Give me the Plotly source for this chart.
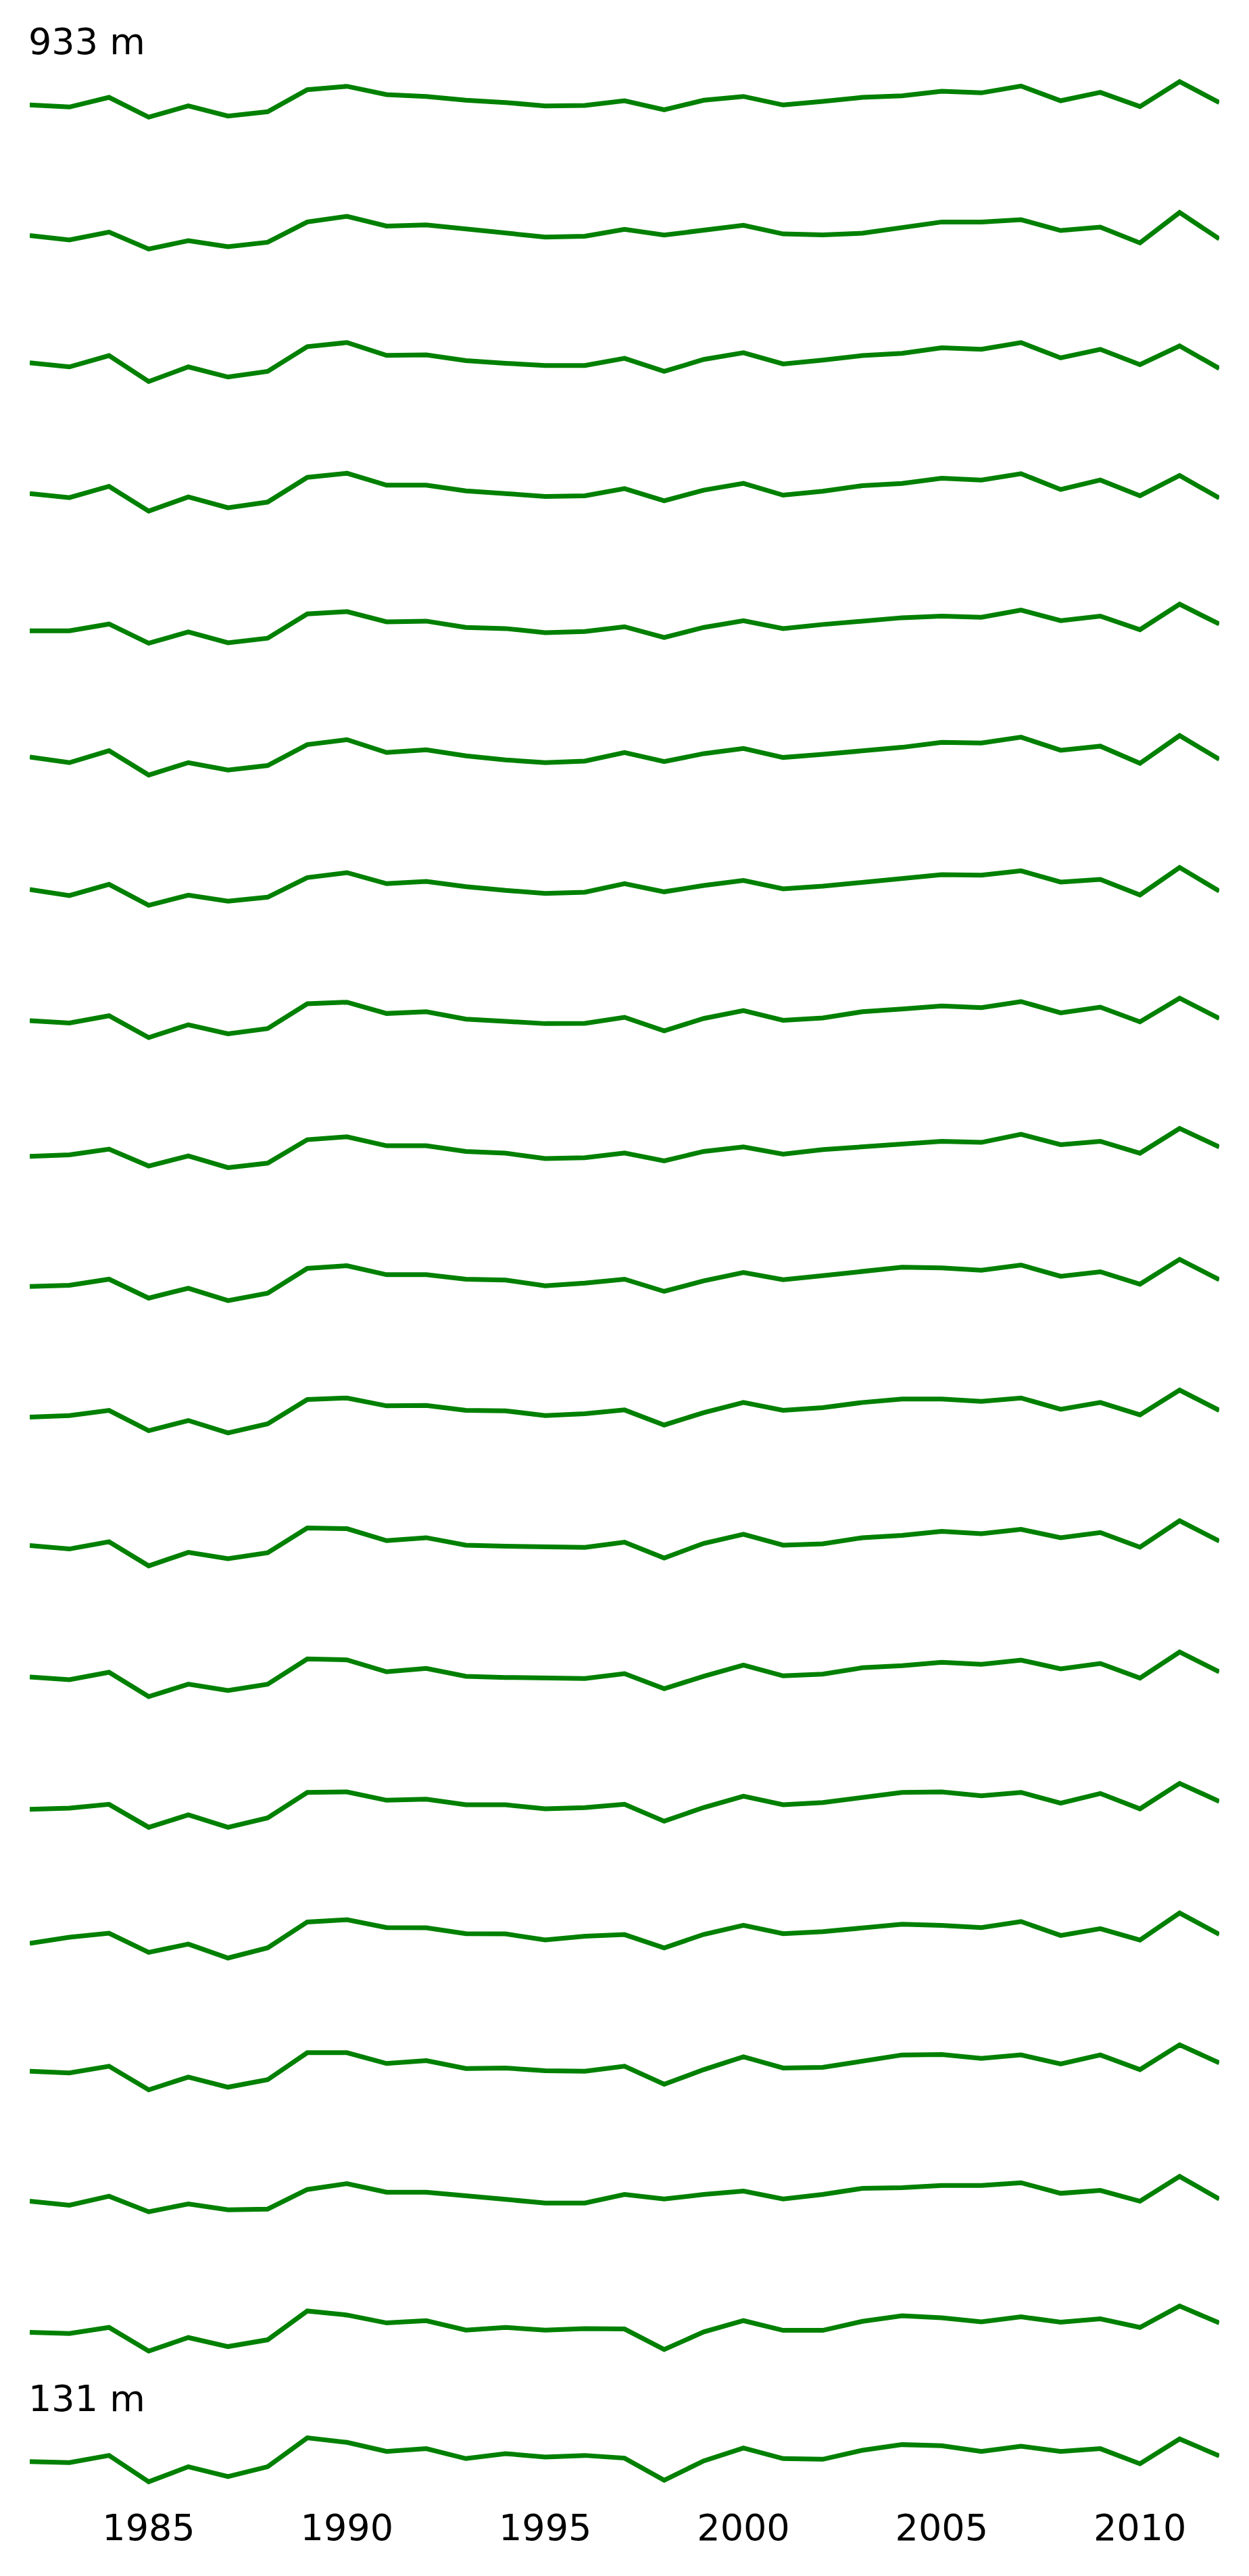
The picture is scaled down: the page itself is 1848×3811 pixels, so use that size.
import plotly.graph_objects as go

# ---------------- data ----------------
years = list(range(1982, 2013))
tick_years = [1985, 1990, 1995, 2000, 2005, 2010]
panel_labels = ["933 m"] + [""] * 17 + ["131 m"]

p01 = [-0.22, -0.31, 0.12, -0.76, -0.26, -0.71, -0.52, 0.46, 0.61, 0.24, 0.16, -0.01, -0.11, -0.26, -0.24, -0.03,
       -0.43, -0.01, 0.16, -0.22, -0.06, 0.12, 0.19, 0.39, 0.32, 0.62, -0.03, 0.34, -0.29, 0.82, -0.11]
p02 = [-0.20, -0.40, -0.05, -0.80, -0.43, -0.70, -0.50, 0.40, 0.65, 0.22, 0.27, 0.10, -0.05, -0.27, -0.23, 0.07,
       -0.18, 0.05, 0.25, -0.13, -0.17, -0.10, 0.13, 0.40, 0.40, 0.50, 0.02, 0.17, -0.53, 0.82, -0.35]
p03 = [-0.04, -0.22, 0.28, -0.87, -0.22, -0.67, -0.42, 0.68, 0.86, 0.29, 0.31, 0.06, -0.06, -0.16, -0.16, 0.16,
       -0.42, 0.11, 0.41, -0.09, 0.08, 0.28, 0.38, 0.63, 0.56, 0.86, 0.18, 0.56, -0.12, 0.71, -0.29]
p04 = [-0.03, -0.21, 0.29, -0.81, -0.18, -0.66, -0.41, 0.69, 0.87, 0.34, 0.34, 0.09, -0.03, -0.16, -0.13, 0.19,
       -0.35, 0.12, 0.42, -0.10, 0.07, 0.32, 0.42, 0.65, 0.57, 0.85, 0.15, 0.57, -0.13, 0.77, -0.23]
p05 = [-0.31, -0.31, -0.01, -0.86, -0.36, -0.84, -0.64, 0.44, 0.54, 0.09, 0.12, -0.16, -0.21, -0.39, -0.34, -0.13,
       -0.61, -0.16, 0.14, -0.21, -0.03, 0.12, 0.27, 0.34, 0.29, 0.61, 0.14, 0.34, -0.26, 0.87, -0.01]
p06 = [-0.10, -0.35, 0.18, -0.90, -0.35, -0.68, -0.48, 0.45, 0.67, 0.10, 0.22, -0.05, -0.23, -0.35, -0.28, 0.10,
       -0.30, 0.05, 0.28, -0.12, 0.02, 0.18, 0.33, 0.55, 0.52, 0.78, 0.20, 0.38, -0.38, 0.85, -0.20]
p07 = [-0.17, -0.44, 0.06, -0.87, -0.42, -0.69, -0.51, 0.36, 0.58, 0.09, 0.19, -0.04, -0.21, -0.34, -0.29, 0.09,
       -0.27, 0.01, 0.23, -0.14, -0.02, 0.16, 0.33, 0.49, 0.47, 0.66, 0.16, 0.28, -0.41, 0.81, -0.24]
p08 = [-0.18, -0.28, 0.04, -0.93, -0.36, -0.76, -0.53, 0.57, 0.64, 0.14, 0.22, -0.11, -0.21, -0.31, -0.30, -0.03,
       -0.63, -0.08, 0.27, -0.16, -0.06, 0.22, 0.34, 0.47, 0.40, 0.67, 0.17, 0.42, -0.23, 0.82, -0.08]
p09 = [-0.39, -0.32, -0.07, -0.82, -0.37, -0.89, -0.69, 0.35, 0.48, 0.08, 0.08, -0.17, -0.25, -0.49, -0.45, -0.24,
       -0.59, -0.17, 0.03, -0.29, -0.09, 0.03, 0.15, 0.28, 0.23, 0.59, 0.13, 0.28, -0.25, 0.85, 0.03]
p10 = [-0.35, -0.30, -0.03, -0.87, -0.43, -0.98, -0.65, 0.45, 0.57, 0.17, 0.17, -0.03, -0.07, -0.32, -0.20, -0.03,
       -0.57, -0.10, 0.27, -0.05, 0.13, 0.33, 0.50, 0.47, 0.37, 0.60, 0.10, 0.30, -0.25, 0.85, -0.05]
p11 = [-0.34, -0.27, -0.04, -0.94, -0.49, -1.04, -0.64, 0.44, 0.51, 0.16, 0.18, -0.04, -0.06, -0.27, -0.19, -0.02,
       -0.69, -0.14, 0.31, -0.04, 0.08, 0.31, 0.46, 0.46, 0.36, 0.51, 0.01, 0.31, -0.24, 0.86, -0.04]
p12 = [-0.23, -0.38, -0.06, -1.13, -0.53, -0.81, -0.55, 0.55, 0.52, -0.01, 0.12, -0.21, -0.26, -0.26, -0.31, -0.08,
       -0.78, -0.13, 0.27, -0.21, -0.15, 0.12, 0.22, 0.40, 0.30, 0.49, 0.12, 0.35, -0.30, 0.87, -0.03]
p13 = [-0.25, -0.37, -0.04, -1.12, -0.57, -0.85, -0.57, 0.55, 0.51, -0.02, 0.13, -0.22, -0.27, -0.29, -0.32, -0.10,
       -0.77, -0.22, 0.28, -0.20, -0.12, 0.16, 0.25, 0.40, 0.31, 0.50, 0.11, 0.35, -0.30, 0.86, -0.02]
p14 = [-0.31, -0.26, -0.09, -1.11, -0.56, -1.11, -0.69, 0.44, 0.46, 0.09, 0.14, -0.11, -0.11, -0.29, -0.24, -0.09,
       -0.84, -0.23, 0.27, -0.11, -0.01, 0.24, 0.44, 0.46, 0.29, 0.44, -0.04, 0.39, -0.29, 0.84, 0.04]
p15 = [-0.45, -0.18, 0.00, -0.85, -0.48, -1.10, -0.65, 0.50, 0.60, 0.25, 0.24, -0.02, -0.03, -0.30, -0.13, -0.06,
       -0.65, -0.05, 0.35, -0.02, 0.07, 0.25, 0.40, 0.35, 0.25, 0.52, -0.10, 0.20, -0.30, 0.90, -0.05]
p16 = [-0.31, -0.39, -0.09, -1.14, -0.57, -1.02, -0.69, 0.51, 0.51, 0.03, 0.16, -0.19, -0.17, -0.29, -0.31, -0.09,
       -0.89, -0.24, 0.33, -0.17, -0.14, 0.16, 0.41, 0.43, 0.26, 0.41, 0.01, 0.41, -0.24, 0.86, 0.06]
p17 = [-0.27, -0.45, -0.05, -0.74, -0.39, -0.65, -0.62, 0.25, 0.51, 0.13, 0.13, -0.05, -0.19, -0.35, -0.35, 0.03,
       -0.17, 0.03, 0.18, -0.17, 0.03, 0.30, 0.33, 0.43, 0.43, 0.55, 0.08, 0.21, -0.27, 0.83, -0.17]
p18 = [-0.28, -0.33, -0.06, -1.11, -0.51, -0.91, -0.61, 0.67, 0.49, 0.14, 0.24, -0.18, -0.06, -0.18, -0.11, -0.13,
       -1.04, -0.26, 0.24, -0.19, -0.19, 0.21, 0.46, 0.37, 0.19, 0.41, 0.17, 0.32, -0.06, 0.89, 0.14]
p19 = [-0.20, -0.25, 0.07, -1.10, -0.43, -0.87, -0.43, 0.85, 0.65, 0.25, 0.37, -0.07, 0.15, 0.00, 0.07, -0.05,
       -1.03, -0.17, 0.40, -0.07, -0.10, 0.30, 0.55, 0.50, 0.25, 0.48, 0.25, 0.37, -0.30, 0.80, 0.05]

panels = [p01, p02, p03, p04, p05, p06, p07, p08, p09, p10,
          p11, p12, p13, p14, p15, p16, p17, p18, p19]

# ---------------- layout geometry ----------------
W, H = 1848, 3811
ML, MR, MT, MB = 36, 52, 0, 116
P = H - MT - MB                # plot-area height in px
first_center = 140.0           # px from top of plot area
pitch = 193.72                 # px between panel centres
half_px = 60.0                 # half height of each panel
px_per_unit = 33.33
yhalf = half_px / px_per_unit
FONT = "DejaVu Sans"
FS = 54
GREEN = "#008000"

fig = go.Figure()
n = len(panels)
layout = dict(
    width=W, height=H,
    margin=dict(l=ML, r=MR, t=MT, b=MB, pad=0),
    paper_bgcolor="white", plot_bgcolor="white",
    showlegend=False,
    font=dict(family=FONT, size=FS, color="black"),
)

annotations = []
for i, vals in enumerate(panels):
    yname = "y" if i == 0 else f"y{i + 1}"
    lname = "yaxis" if i == 0 else f"yaxis{i + 1}"
    c = first_center + i * pitch
    d0 = 1 - (c + half_px) / P
    d1 = 1 - (c - half_px) / P
    fig.add_trace(go.Scatter(x=years, y=vals, xaxis="x", yaxis=yname, mode="lines",
                             line=dict(color=GREEN, width=7), hoverinfo="skip"))
    layout[lname] = dict(domain=[max(d0, 0), min(d1, 1)], range=[-yhalf, yhalf],
                         showgrid=False, zeroline=False, showline=False,
                         showticklabels=False, ticks="", anchor="x", fixedrange=True)
    if panel_labels[i]:
        annotations.append(dict(text=panel_labels[i], xref="paper", yref="paper",
                                x=-0.002, y=1 - (c - 86) / P, xanchor="left", yanchor="middle",
                                showarrow=False, font=dict(family=FONT, size=FS, color="black")))

layout["xaxis"] = dict(range=[1982, 2012], tickvals=tick_years, ticktext=[str(t) for t in tick_years],
                       showgrid=False, zeroline=False, showline=False, ticks="",
                       ticklabelstandoff=8,
                       anchor=f"y{n}", tickfont=dict(family=FONT, size=FS, color="black"))
layout["annotations"] = annotations
fig.update_layout(**layout)

fig.write_html("out.html")
